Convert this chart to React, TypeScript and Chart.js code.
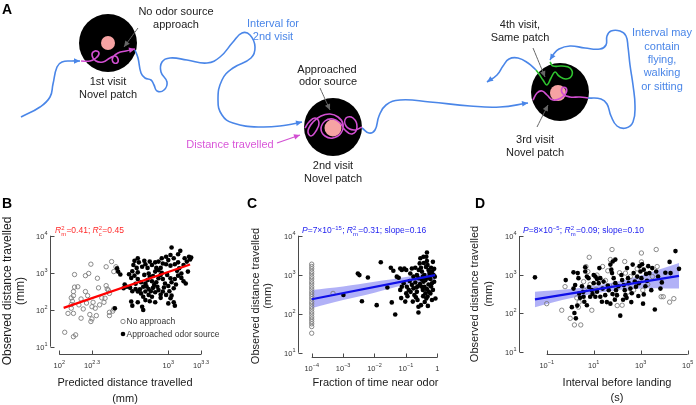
import { useEffect, useRef } from "react";
import { Chart, registerables } from "chart.js";

Chart.register(...registerables);

const FONT = "'Liberation Sans', Arial, Helvetica, sans-serif";
type Pt = [number, number];

// ================= DATA =================
// Panel B: [log10 predicted distance (mm), log10 observed distance (mm)]
const bNoApproach: Pt[] = [
  [2.05, 1.39], [2.13, 1.27], [2.15, 1.32], [2.08, 1.9], [2.13, 1.9], [2.2, 1.77], [2.11, 2.04], [2.11, 2.14],
  [2.12, 2.23], [2.11, 2.32], [2.13, 2.38], [2.13, 2.49], [2.14, 2.61], [2.14, 2.95], [2.2, 2.29], [2.18, 2.13],
  [2.24, 2.49], [2.26, 2.38], [2.24, 2.92], [2.27, 2.98], [2.29, 3.23], [2.3, 2.08], [2.28, 1.87], [2.3, 1.75],
  [2.29, 1.68], [2.34, 1.84], [2.31, 2.2], [2.33, 2.04], [2.35, 2.85], [2.36, 2.59], [2.37, 2.13], [2.39, 2.32],
  [2.43, 3.16], [2.43, 2.65], [2.44, 2.56], [2.46, 1.93], [2.46, 1.84], [2.49, 1.96], [2.5, 2.02], [2.48, 3.3],
  [2.5, 3.03], [2.52, 3.16], [2.42, 2.31], [2.41, 2.2], [2.46, 2.44], [2.45, 2.53], [2.22, 2.02], [2.25, 2.18],
  [2.17, 2.62],
];
const bApproached: Pt[] = [
  [3.03, 3.68], [3.11, 3.59], [3.19, 3.43], [3.21, 3.41], [3.15, 3.39], [3.09, 3.5], [3.02, 3.48], [2.98, 3.43],
  [2.94, 3.39], [3.0, 3.34], [3.05, 3.39], [2.91, 3.3], [2.95, 3.25], [2.98, 3.23], [3.02, 3.19], [3.06, 3.23],
  [3.09, 3.28], [2.88, 3.28], [2.85, 3.21], [2.89, 3.13], [2.83, 3.3], [2.88, 3.03], [2.91, 3.07], [2.93, 3.13],
  [2.72, 3.39], [2.69, 3.32], [2.73, 3.28], [2.68, 3.21], [2.71, 3.13], [2.67, 3.04], [2.72, 3.01], [2.76, 3.16],
  [2.79, 3.23], [2.81, 3.13], [2.78, 3.32], [2.54, 3.03], [2.56, 2.95], [2.53, 3.12],
  [2.69, 2.92], [2.66, 2.86], [2.72, 2.83], [2.75, 2.74], [2.77, 2.62], [2.79, 2.71], [2.81, 2.8], [2.83, 2.89],
  [2.85, 2.77], [2.87, 2.67], [2.89, 2.74], [2.91, 2.85], [2.93, 2.94], [2.95, 2.83], [2.97, 2.71], [2.99, 2.94],
  [3.02, 2.85], [3.03, 2.74], [3.06, 2.83], [3.09, 2.92], [3.12, 2.98], [3.14, 2.77], [3.16, 2.71], [3.18, 3.03],
  [3.1, 3.12], [3.14, 3.21], [2.82, 2.98], [2.78, 2.94],
  [2.59, 2.58], [2.62, 2.62], [2.65, 2.59], [2.67, 2.5], [2.7, 2.56], [2.72, 2.49], [2.75, 2.44], [2.77, 2.35],
  [2.79, 2.49], [2.82, 2.56], [2.84, 2.5], [2.86, 2.59], [2.88, 2.47], [2.91, 2.53], [2.93, 2.41], [2.95, 2.49],
  [2.98, 2.4], [3.01, 2.5], [3.03, 2.38], [3.05, 2.58], [3.07, 2.68], [2.82, 2.4], [2.85, 2.35], [2.79, 2.26],
  [2.66, 2.22], [2.67, 2.11], [2.72, 2.2], [2.76, 2.08], [2.77, 1.99], [2.83, 2.23], [2.88, 2.2], [2.93, 2.32],
  [3.02, 2.31], [3.05, 2.2], [3.06, 2.11], [3.0, 2.17], [2.51, 2.04], [2.6, 2.68], [3.2, 3.36], [3.17, 3.3],
  [2.9, 2.62], [2.96, 2.6], [3.0, 2.64], [2.74, 2.55], [2.8, 2.63], [2.94, 3.0], [3.08, 3.05], [2.7, 2.7],
  [2.86, 2.91], [3.12, 2.86], [2.64, 2.96],
];
const bFit: Pt[] = [[2.04, 2.05], [3.2, 3.22]];

// Panel C: [log10 fraction of time near odor, log10 observed distance (mm)]
const cNoApproachY: number[] = [
  3.27, 3.21, 3.15, 3.08, 3.02, 2.95, 2.89, 2.82, 2.76, 2.69, 2.63, 2.56, 2.5, 2.44, 2.38, 2.31, 2.25, 2.18,
  2.12, 2.05, 1.99, 1.92, 1.86, 1.8, 1.74, 1.67, 1.5,
];
const cNoApproachX = -4; // zero fraction plotted at the axis floor
const cNoApproachExtra: Pt[] = [[-3.32, 2.52]];
const cApproached: Pt[] = [
  [-2.99, 2.48], [-2.53, 3.03], [-2.48, 2.99], [-2.21, 2.93], [-2.4, 2.32], [-1.93, 2.22], [-1.8, 3.32],
  [-1.48, 3.18], [-1.59, 2.67], [-1.45, 2.29], [-1.34, 1.98], [-1.18, 3.16], [-1.13, 3.12], [-1.23, 2.92],
  [-1.05, 3.16], [-0.99, 3.12], [-1.29, 2.95], [-0.97, 2.69], [-0.99, 2.52], [-1.02, 2.31], [-0.88, 2.84],
  [-0.86, 3.03], [-0.81, 3.16], [-0.76, 2.95], [-0.7, 2.8], [-0.67, 2.67], [-0.65, 2.56], [-0.73, 2.48],
  [-0.63, 2.35], [-0.6, 2.18], [-0.56, 3.29], [-0.52, 3.18], [-0.49, 3.08], [-0.46, 2.95], [-0.44, 2.82],
  [-0.41, 2.69], [-0.46, 2.61], [-0.38, 2.52], [-0.35, 3.46], [-0.33, 3.35], [-0.31, 3.25], [-0.28, 3.12],
  [-0.24, 2.99], [-0.22, 2.89], [-0.28, 2.75], [-0.33, 2.63], [-0.31, 2.44], [-0.35, 2.39], [-0.2, 3.18],
  [-0.17, 3.08], [-0.14, 3.33], [-0.12, 2.99], [-0.17, 2.78], [-0.14, 2.61], [-0.06, 2.39], [-0.1, 2.82],
  [-0.33, 3.57], [-0.54, 3.42], [-0.44, 3.46], [-0.59, 3.12], [-0.7, 3.18], [-0.65, 2.99], [-0.81, 2.74],
  [-0.91, 2.61], [-1.07, 2.78], [-1.13, 2.69], [-1.18, 2.61], [-0.49, 2.69], [-0.76, 2.65], [-0.6, 2.91],
  [-0.41, 2.99], [-0.22, 2.52], [-0.17, 2.35], [-0.52, 2.22], [-0.6, 2.03], [-0.38, 2.86], [-0.3, 2.92],
  [-0.25, 3.05], [-0.55, 2.76], [-0.62, 2.7], [-0.85, 2.56], [-0.95, 2.45], [-0.45, 2.45], [-0.27, 2.56],
  [-0.1, 3.15], [-0.08, 2.95], [-0.36, 3.2], [-0.43, 3.3], [-0.5, 2.88], [-0.68, 2.42], [-0.78, 2.31],
  [-0.4, 2.3], [-1.4, 3.1], [-1.15, 2.4], [-0.3, 2.2], [-0.2, 2.7],
];
const cFit: Pt[] = [[-4, 2.37], [-0.07, 2.99]];
const cBandUpper: Pt[] = [[-4, 2.61], [-3, 2.7], [-2, 2.82], [-1, 2.94], [-0.07, 3.08]];
const cBandLower: Pt[] = [[-4, 2.14], [-3, 2.35], [-2, 2.54], [-1, 2.74], [-0.07, 2.87]];

// Panel D: [log10 interval before landing (s), log10 observed distance (mm)]
const dNoApproach: Pt[] = [
  [-1.0, 2.25], [-0.36, 2.08], [-0.22, 2.69], [0.0, 1.87], [0.18, 1.7], [0.45, 1.7], [0.35, 2.16], [0.38, 2.29],
  [0.57, 2.82], [0.67, 3.21], [0.81, 3.45], [0.75, 3.08], [0.92, 2.08], [1.14, 2.99], [1.38, 3.21], [1.71, 3.39],
  [1.78, 3.65], [1.85, 2.73], [1.92, 2.45], [2.21, 2.21], [2.32, 3.34], [2.35, 3.04], [2.56, 2.95], [3.03, 3.56],
  [3.03, 3.33], [3.09, 2.6], [3.66, 3.65], [3.7, 3.21], [3.87, 2.43], [3.96, 2.43], [4.23, 2.29], [4.41, 2.38],
  [0.6, 2.6], [0.85, 2.75], [1.1, 2.62], [1.5, 2.85], [2.0, 2.2], [2.1, 3.05], [2.45, 2.55], [2.7, 2.6],
  [3.3, 2.75], [3.5, 2.95], [0.28, 2.4], [1.6, 3.1], [2.85, 3.15],
];
const dApproached: Pt[] = [
  [-1.5, 2.93], [-0.19, 2.86], [0.14, 3.06], [0.14, 2.64], [0.21, 2.73], [0.32, 3.04], [0.35, 2.91], [0.38, 2.51],
  [0.42, 2.4], [0.07, 2.16], [0.18, 2.01], [0.24, 1.87], [0.64, 3.19], [0.64, 3.08], [0.71, 2.95], [0.78, 2.91],
  [1.0, 2.99], [1.07, 2.95], [1.14, 2.89], [1.21, 2.78], [1.28, 2.91], [0.92, 2.6], [0.85, 2.43], [0.57, 2.43],
  [0.71, 2.21], [1.14, 2.56], [1.28, 2.43], [1.38, 2.64], [1.42, 2.82], [1.49, 2.47], [1.56, 2.29], [1.64, 2.6],
  [1.71, 3.26], [1.75, 3.13], [1.81, 3.34], [1.92, 3.39], [1.78, 3.04], [1.85, 2.91], [1.92, 2.78], [1.95, 2.6],
  [1.99, 2.47], [1.71, 2.25], [2.13, 1.94], [2.18, 2.99], [2.21, 2.86], [2.28, 2.73], [2.32, 2.6], [2.35, 2.47],
  [2.42, 3.17], [2.46, 2.91], [2.49, 2.78], [2.56, 2.64], [2.6, 2.29], [2.66, 3.26], [2.7, 3.04], [2.75, 2.82],
  [2.8, 2.69], [2.85, 2.95], [2.92, 2.78], [2.99, 3.08], [3.03, 2.91], [3.06, 3.27], [3.13, 3.13], [3.13, 2.49],
  [3.1, 2.25], [3.23, 3.02], [3.27, 2.84], [3.32, 3.22], [3.37, 3.04], [3.49, 3.17], [3.6, 2.1], [3.66, 3.08],
  [3.74, 2.95], [3.84, 2.64], [4.23, 3.33], [4.27, 3.04], [4.48, 3.61], [4.63, 3.15], [1.24, 3.17], [1.0, 2.78],
  [1.07, 2.43], [0.5, 2.7], [0.55, 2.55], [0.8, 2.68], [0.95, 2.5], [1.35, 2.3], [1.6, 2.72], [1.9, 2.35],
  [2.05, 2.7], [2.4, 2.4], [2.62, 2.52], [2.9, 2.45], [3.2, 2.7], [3.45, 2.6], [3.9, 2.8], [4.05, 3.05],
  [0.3, 2.2], [0.6, 2.3], [1.8, 2.5], [2.25, 2.35], [2.95, 3.22],
];
const dFit: Pt[] = [[-1.5, 2.36], [4.63, 2.97]];
const dBandUpper: Pt[] = [[-1.5, 2.56], [0, 2.63], [1.5, 2.76], [3, 2.98], [4.63, 3.3]];
const dBandLower: Pt[] = [[-1.5, 2.16], [0, 2.39], [1.5, 2.56], [3, 2.64], [4.63, 2.64]];

// Tick exponents
const bXTickExps = ["2", "2.3", "3", "3.3"];
const bXTickVals = [2, 2.3, 3, 3.3];
const yTickExps = ["1", "2", "3", "4"];
const yTickVals = [1, 2, 3, 4];
const cXTickVals = [-4, -3, -2, -1, 0];
const cXTickLabels: [string, string][] = [["10", "−4"], ["10", "−3"], ["10", "−2"], ["10", "−1"], ["1", ""]];
const dXTickVals = [-1, 1, 3, 5];
const dXTickExps = ["−1", "1", "3", "5"];

// ================= PANEL A schematic (diagram units) =================
const patchCentres: Pt[] = [[108, 43], [333, 127], [560, 92]];
const odorCentres: Pt[] = [[108, 43], [333, 128], [558, 93]];
const odorRadii = [7, 8.5, 8];
const approachPath: Pt[] = [[21, 117], [40, 107], [50, 97], [53, 84], [57, 67], [62, 62], [72, 61], [80, 61]];
const visit1Path: Pt[] = [[81, 61], [90, 61], [96, 58], [99, 53], [95, 51], [92, 55], [96, 61], [103, 62], [110, 58], [115, 56], [118, 59], [117, 63], [113, 62], [113, 57], [118, 53], [126, 51], [135, 49]];
const interval2Path: Pt[] = [[135, 50], [138, 58], [141, 73], [145, 78], [151, 80], [154, 85], [157, 91], [164, 90], [167, 82], [161, 72], [162, 62], [170, 58], [187, 60], [207, 63], [220, 57], [233, 42], [242, 33], [250, 35], [255, 47], [251, 58], [233, 68], [222, 80], [218, 100], [222, 115], [233, 123], [260, 127], [287, 125], [302, 122]];
const visit2Path: Pt[] = [[305, 128], [309, 122], [315, 118], [319, 123], [316, 131], [311, 136], [308, 131], [313, 122], [321, 116], [330, 114], [338, 117], [343, 124], [341, 133], [333, 138], [325, 136], [321, 129], [325, 121], [333, 119], [340, 123], [345, 130], [352, 134], [357, 127], [353, 118], [346, 118], [346, 126], [354, 130], [362, 127]];
const interval3Path: Pt[] = [[362, 128], [369, 133], [375, 130], [379, 116], [386, 105], [400, 100], [430, 102], [470, 106], [500, 107], [528, 103]];
const visit3Path: Pt[] = [[533, 100], [537, 93], [542, 91], [547, 95], [553, 100], [561, 98], [566, 93], [566, 88], [562, 88], [563, 94], [570, 97], [580, 97], [588, 98]];
const interval4Path: Pt[] = [[588, 98], [601, 99], [607, 104], [611, 116], [617, 126], [626, 128], [633, 122], [635, 106], [633, 85], [630, 65], [628, 47], [626, 36], [620, 31], [611, 31], [607, 36], [606, 45], [600, 49], [585, 48], [570, 46], [559, 49], [553, 55], [550, 60]];
const visit4Path: Pt[] = [[550, 62], [553, 66], [562, 66], [570, 68], [572, 75], [566, 79], [559, 76], [555, 72], [551, 78], [547, 85], [543, 80], [539, 74], [536, 70]];
const leavePath: Pt[] = [[536, 70], [528, 63], [518, 58], [509, 59], [503, 66], [497, 75], [487, 82]];
const pointer1: Pt[] = [[138, 28], [124, 47]];
const pointer2: Pt[] = [[320, 88], [330, 110]];
const pointer3: Pt[] = [[533, 48], [545, 77]];
const pointer4: Pt[] = [[537, 127], [548, 105]];
const distancePointer: Pt[] = [[277, 143], [300, 135]];

const BLUE = "#4a86e8";
const MAGENTA = "#d24fd2";
const GREEN = "#2fc42f";
const GREY = "#666666";
const TEXT = "#222222";

const diagramLabels: { t: string; x: number; y: number; c: string }[] = [
  { t: "No odor source", x: 176, y: 12, c: TEXT },
  { t: "approach", x: 176, y: 25, c: TEXT },
  { t: "1st visit", x: 108, y: 82, c: TEXT },
  { t: "Novel patch", x: 108, y: 95, c: TEXT },
  { t: "Interval for", x: 273, y: 24, c: BLUE },
  { t: "2nd visit", x: 273, y: 37, c: BLUE },
  { t: "Approached", x: 327, y: 69.5, c: TEXT },
  { t: "odor source", x: 328, y: 82, c: TEXT },
  { t: "2nd visit", x: 333, y: 165.5, c: TEXT },
  { t: "Novel patch", x: 333, y: 178.5, c: TEXT },
  { t: "Distance travelled", x: 230, y: 145, c: "#d957d9" },
  { t: "4th visit,", x: 520, y: 25, c: TEXT },
  { t: "Same patch", x: 520, y: 38.3, c: TEXT },
  { t: "3rd visit", x: 535, y: 140, c: TEXT },
  { t: "Novel patch", x: 535, y: 153.3, c: TEXT },
  { t: "Interval may", x: 662, y: 33, c: BLUE },
  { t: "contain", x: 662, y: 47, c: BLUE },
  { t: "flying,", x: 662, y: 60, c: BLUE },
  { t: "walking", x: 662, y: 73.3, c: BLUE },
  { t: "or sitting", x: 662, y: 86.7, c: BLUE },
];

// ================= helpers =================
const toXY = (p: Pt[]) => p.map(([x, y]) => ({ x, y }));
const toPow = (p: Pt[]) => p.map(([lx, ly]) => ({ x: 10 ** lx, y: 10 ** ly }));

function arrowHead(ctx: CanvasRenderingContext2D, x1: number, y1: number, x2: number, y2: number, color: string, len = 6, half = 2.8) {
  const a = Math.atan2(y2 - y1, x2 - x1);
  ctx.beginPath();
  ctx.moveTo(x2, y2);
  ctx.lineTo(x2 - len * Math.cos(a) + half * Math.sin(a), y2 - len * Math.sin(a) - half * Math.cos(a));
  ctx.lineTo(x2 - len * Math.cos(a) - half * Math.sin(a), y2 - len * Math.sin(a) + half * Math.cos(a));
  ctx.closePath();
  ctx.fillStyle = color;
  ctx.fill();
}

type Seg = { t?: string; it?: boolean; sup?: string; sub?: string };
function drawRich(ctx: CanvasRenderingContext2D, x: number, y: number, segs: Seg[], size: number) {
  ctx.textAlign = "left";
  ctx.textBaseline = "alphabetic";
  let cx = x;
  for (const s of segs) {
    if (s.t !== undefined) {
      ctx.font = `${s.it ? "italic " : ""}${size}px ${FONT}`;
      ctx.fillText(s.t, cx, y);
      cx += ctx.measureText(s.t).width;
    } else {
      const ss = size * 0.7;
      ctx.font = `${ss}px ${FONT}`;
      let w = 0;
      if (s.sup) { ctx.fillText(s.sup, cx, y - size * 0.4); w = Math.max(w, ctx.measureText(s.sup).width); }
      if (s.sub) { ctx.fillText(s.sub, cx, y + size * 0.3); w = Math.max(w, ctx.measureText(s.sub).width); }
      cx += w + 0.3;
    }
  }
}

const TICK_SIZE = 7.5;
const EXP_SIZE = 5.5;
function drawPower(ctx: CanvasRenderingContext2D, x: number, y: number, base: string, exp: string, align: "center" | "right") {
  ctx.font = `${TICK_SIZE}px ${FONT}`;
  const wb = ctx.measureText(base).width;
  ctx.font = `${EXP_SIZE}px ${FONT}`;
  const we = exp ? ctx.measureText(exp).width : 0;
  const left = align === "center" ? x - (wb + we) / 2 : x - wb - we;
  ctx.textAlign = "left";
  ctx.textBaseline = "middle";
  ctx.font = `${TICK_SIZE}px ${FONT}`;
  ctx.fillText(base, left, y);
  if (exp) {
    ctx.font = `${EXP_SIZE}px ${FONT}`;
    ctx.fillText(exp, left + wb, y - 3.5);
  }
}

// ================= panel A =================
function buildDiagram(canvas: HTMLCanvasElement) {
  const path = (pts: Pt[], color: string, width = 1.6) => ({
    data: toXY(pts), showLine: true, pointRadius: 0, borderColor: color, borderWidth: width,
    tension: 0.45, fill: false, order: 1, clip: false,
  });
  const arrows: { p: Pt[]; c: string }[] = [
    { p: approachPath, c: BLUE }, { p: visit1Path, c: MAGENTA }, { p: interval2Path, c: BLUE },
    { p: interval3Path, c: BLUE }, { p: interval4Path, c: BLUE }, { p: leavePath, c: BLUE },
    { p: pointer1, c: GREY }, { p: pointer2, c: GREY }, { p: pointer3, c: GREY }, { p: pointer4, c: GREY },
    { p: distancePointer, c: MAGENTA },
  ];
  const plugin = {
    id: "diagramDecor",
    afterDatasetsDraw(chart: any) {
      const ctx = chart.ctx as CanvasRenderingContext2D;
      const xs = chart.scales.x, ys = chart.scales.y;
      ctx.save();
      for (const a of arrows) {
        const n = a.p.length;
        const [x1, y1] = a.p[n - 2];
        const [x2, y2] = a.p[n - 1];
        arrowHead(ctx, xs.getPixelForValue(x1), ys.getPixelForValue(y1), xs.getPixelForValue(x2), ys.getPixelForValue(y2), a.c);
      }
      ctx.textAlign = "center";
      ctx.textBaseline = "middle";
      ctx.font = `11px ${FONT}`;
      for (const l of diagramLabels) {
        ctx.fillStyle = l.c;
        ctx.fillText(l.t, xs.getPixelForValue(l.x), ys.getPixelForValue(l.y));
      }
      ctx.fillStyle = "#000";
      ctx.textAlign = "left";
      ctx.textBaseline = "alphabetic";
      ctx.font = `bold 14px ${FONT}`;
      ctx.fillText("A", 2, 14);
      ctx.restore();
    },
  };
  return new Chart(canvas, {
    type: "scatter",
    data: {
      datasets: [
        { data: toXY(patchCentres), pointRadius: 29, pointBackgroundColor: "#000", pointBorderWidth: 0, order: 10 } as any,
        { data: toXY(odorCentres), pointRadius: odorRadii, pointBackgroundColor: "#f6a3a3", pointBorderWidth: 0, order: 9 } as any,
        path(approachPath, BLUE), path(visit1Path, MAGENTA), path(interval2Path, BLUE), path(visit2Path, MAGENTA),
        path(interval3Path, BLUE), path(visit3Path, MAGENTA), path(interval4Path, BLUE), path(visit4Path, GREEN),
        path(leavePath, BLUE), path(pointer1, GREY, 1), path(pointer2, GREY, 1), path(pointer3, GREY, 1),
        path(pointer4, GREY, 1), path(distancePointer, MAGENTA, 1.2),
      ],
    },
    options: {
      animation: false, responsive: false, maintainAspectRatio: false, events: [],
      layout: { padding: 0, autoPadding: false } as any,
      scales: {
        x: { type: "linear", min: 0, max: 696, display: false },
        y: { type: "linear", min: 0, max: 195, reverse: true, display: false },
      },
      plugins: { legend: { display: false }, tooltip: { enabled: false } },
    },
    plugins: [plugin],
  } as any);
}

// ================= scatter panels =================
interface Spec {
  xRange: [number, number]; yRange: [number, number];
  padding: { left: number; right: number; top: number; bottom: number };
  xTicks: { v: number; base: string; exp: string }[];
  yTicks: { v: number; base: string; exp: string }[];
  letter: string; letterX: number;
  stats: Seg[]; statsColor: string; statsX: number;
  yTitle: string[]; yTitleX: number[]; yTitleY: number; yTitleSize: number;
  xTitle: string[]; xTitleX: number; xTitleY: number[]; xTitleSize: number;
  open: Pt[]; filled: Pt[]; fit: Pt[]; fitColor: string;
  bandUpper?: Pt[]; bandLower?: Pt[]; legend?: boolean;
}

function buildScatter(canvas: HTMLCanvasElement, s: Spec) {
  const plugin = {
    id: "offsetAxes",
    afterDraw(chart: any) {
      const ctx = chart.ctx as CanvasRenderingContext2D;
      const xs = chart.scales.x, ys = chart.scales.y;
      const a = chart.chartArea;
      ctx.save();
      ctx.strokeStyle = "#4a4a4a";
      ctx.lineWidth = 1;
      // y axis
      const yTop = ys.getPixelForValue(10 ** s.yTicks[s.yTicks.length - 1].v);
      const yBot = ys.getPixelForValue(10 ** s.yTicks[0].v);
      const ax = Math.round(a.left) + 0.5;
      ctx.beginPath();
      ctx.moveTo(ax, yTop); ctx.lineTo(ax, yBot);
      for (const t of s.yTicks) {
        const py = Math.round(ys.getPixelForValue(10 ** t.v)) + 0.5;
        ctx.moveTo(ax, py); ctx.lineTo(ax + 4, py);
      }
      // x axis
      const xL = xs.getPixelForValue(10 ** s.xTicks[0].v);
      const xR = xs.getPixelForValue(10 ** s.xTicks[s.xTicks.length - 1].v);
      const ay = Math.round(a.bottom) + 0.5;
      ctx.moveTo(xL, ay); ctx.lineTo(xR, ay);
      for (const t of s.xTicks) {
        const px = Math.round(xs.getPixelForValue(10 ** t.v)) + 0.5;
        ctx.moveTo(px, ay); ctx.lineTo(px, ay - 4);
      }
      ctx.stroke();
      // tick labels
      ctx.fillStyle = "#333";
      for (const t of s.yTicks) drawPower(ctx, ax - 3, ys.getPixelForValue(10 ** t.v) + 1, t.base, t.exp, "right");
      for (const t of s.xTicks) drawPower(ctx, xs.getPixelForValue(10 ** t.v), ay + 11, t.base, t.exp, "center");
      // titles
      ctx.fillStyle = "#1a1a1a";
      ctx.textAlign = "center";
      ctx.textBaseline = "middle";
      ctx.font = `${s.xTitleSize}px ${FONT}`;
      s.xTitle.forEach((line, i) => ctx.fillText(line, s.xTitleX, s.xTitleY[i]));
      ctx.font = `${s.yTitleSize}px ${FONT}`;
      s.yTitle.forEach((line, i) => {
        ctx.save();
        ctx.translate(s.yTitleX[i], s.yTitleY);
        ctx.rotate(-Math.PI / 2);
        ctx.fillText(line, 0, 0);
        ctx.restore();
      });
      // panel letter
      ctx.fillStyle = "#000";
      ctx.textAlign = "left";
      ctx.textBaseline = "alphabetic";
      ctx.font = `bold 14px ${FONT}`;
      ctx.fillText(s.letter, s.letterX, 33);
      // stats
      ctx.fillStyle = s.statsColor;
      drawRich(ctx, s.statsX, 58, s.stats, 8.5);
      // legend
      if (s.legend) {
        const lx = 123, l1 = 146.5, l2 = 159;
        ctx.beginPath();
        ctx.arc(lx, l1, 2.2, 0, Math.PI * 2);
        ctx.strokeStyle = "#808080"; ctx.lineWidth = 0.9; ctx.stroke();
        ctx.beginPath();
        ctx.arc(lx, l2, 2.3, 0, Math.PI * 2);
        ctx.fillStyle = "#000"; ctx.fill();
        ctx.fillStyle = "#333";
        ctx.font = `8.5px ${FONT}`;
        ctx.textBaseline = "middle";
        ctx.fillText("No approach", lx + 3.5, l1 + 0.5);
        ctx.fillText("Approached odor source", lx + 3.5, l2 + 0.5);
      }
      ctx.restore();
    },
  };

  const datasets: any[] = [];
  if (s.bandUpper && s.bandLower) {
    datasets.push({ data: toPow(s.bandUpper), showLine: true, pointRadius: 0, borderWidth: 0, borderColor: "rgba(0,0,0,0)", backgroundColor: "rgba(100,100,240,0.5)", fill: "+1", tension: 0.35, order: 6 });
    datasets.push({ data: toPow(s.bandLower), showLine: true, pointRadius: 0, borderWidth: 0, borderColor: "rgba(0,0,0,0)", fill: false, tension: 0.35, order: 7 });
  }
  datasets.push({ data: toPow(s.open), pointRadius: 2.2, pointBorderColor: "#7d7d7d", pointBackgroundColor: "rgba(255,255,255,0)", pointBorderWidth: 0.9, order: 4, clip: false });
  datasets.push({ data: toPow(s.filled), pointRadius: 2.3, pointBorderColor: "#000", pointBackgroundColor: "#000", pointBorderWidth: 0, order: 3, clip: false });
  datasets.push({ data: toPow(s.fit), showLine: true, pointRadius: 0, borderColor: s.fitColor, borderWidth: 2.2, fill: false, order: 1 });

  return new Chart(canvas, {
    type: "scatter",
    data: { datasets },
    options: {
      animation: false, responsive: false, maintainAspectRatio: false, events: [],
      layout: { padding: s.padding, autoPadding: false } as any,
      scales: {
        x: { type: "logarithmic", min: 10 ** s.xRange[0], max: 10 ** s.xRange[1], display: false },
        y: { type: "logarithmic", min: 10 ** s.yRange[0], max: 10 ** s.yRange[1], display: false },
      },
      plugins: { legend: { display: false }, tooltip: { enabled: false } },
    },
    plugins: [plugin],
  } as any);
}

const yTicksStd = yTickVals.map((v, i) => ({ v, base: "10", exp: yTickExps[i] }));
const rm = (v: string): Seg[] => [{ t: "R", it: true }, { sup: "2", sub: "m" }, { t: v }];

const panelB: Spec = {
  xRange: [1.915, 3.3], yRange: [0.816, 4],
  padding: { left: 50, right: 31, top: 60.7, bottom: 51.5 },
  xTicks: bXTickVals.map((v, i) => ({ v, base: "10", exp: bXTickExps[i] })),
  yTicks: yTicksStd,
  letter: "B", letterX: 2,
  stats: [...rm("=0.41; "), { t: "R", it: true }, { sup: "2", sub: "c" }, { t: "=0.45" }],
  statsColor: "#ff2a2a", statsX: 55,
  yTitle: ["Observed distance travelled", "(mm)"], yTitleX: [8, 21], yTitleY: 116, yTitleSize: 12,
  xTitle: ["Predicted distance travelled", "(mm)"], xTitleX: 125, xTitleY: [208, 224], xTitleSize: 11,
  open: bNoApproach, filled: bApproached, fit: bFit, fitColor: "#ff0000", legend: true,
};

const panelC: Spec = {
  xRange: [-4.436, 0], yRange: [0.89, 4],
  padding: { left: 66, right: 26.7, top: 60.7, bottom: 48 },
  xTicks: cXTickVals.map((v, i) => ({ v, base: cXTickLabels[i][0], exp: cXTickLabels[i][1] })),
  yTicks: yTicksStd,
  letter: "C", letterX: 15,
  stats: [{ t: "P", it: true }, { t: "=7×10" }, { sup: "−15" }, { t: "; " }, ...rm("=0.31; slope=0.16")],
  statsColor: "#2424f0", statsX: 70,
  yTitle: ["Observed distance travelled", "(mm)"], yTitleX: [24, 36], yTitleY: 121, yTitleSize: 11,
  xTitle: ["Fraction of time near odor"], xTitleX: 143.5, xTitleY: [208], xTitleSize: 11,
  open: [...cNoApproachY.map((y) => [cNoApproachX, y] as Pt), ...cNoApproachExtra],
  filled: cApproached, fit: cFit, fitColor: "#1010e8",
  bandUpper: cBandUpper, bandLower: cBandLower,
};

const panelD: Spec = {
  xRange: [-2.2, 5], yRange: [0.948, 4],
  padding: { left: 54.5, right: 8.3, top: 61, bottom: 51 },
  xTicks: dXTickVals.map((v, i) => ({ v, base: "10", exp: dXTickExps[i] })),
  yTicks: yTicksStd,
  letter: "D", letterX: 11,
  stats: [{ t: "P", it: true }, { t: "=8×10" }, { sup: "−5" }, { t: "; " }, ...rm("=0.09; slope=0.10")],
  statsColor: "#2424f0", statsX: 59,
  yTitle: ["Observed distance travelled", "(mm)"], yTitleX: [11, 25], yTitleY: 119, yTitleSize: 11,
  xTitle: ["Interval before landing", "(s)"], xTitleX: 153, xTitleY: [208, 223], xTitleSize: 11,
  open: dNoApproach, filled: dApproached, fit: dFit, fitColor: "#1010e8",
  bandUpper: dBandUpper, bandLower: dBandLower,
};

export default function App() {
  const aRef = useRef<HTMLCanvasElement>(null);
  const bRef = useRef<HTMLCanvasElement>(null);
  const cRef = useRef<HTMLCanvasElement>(null);
  const dRef = useRef<HTMLCanvasElement>(null);
  useEffect(() => {
    const charts = [
      buildDiagram(aRef.current!),
      buildScatter(bRef.current!, panelB),
      buildScatter(cRef.current!, panelC),
      buildScatter(dRef.current!, panelD),
    ];
    return () => charts.forEach((c) => c.destroy());
  }, []);
  const abs = (left: number, top: number) => ({ position: "absolute" as const, left, top, display: "block" });
  return (
    <div style={{ position: "absolute", left: 0, top: 0, width: 696, height: 405, background: "#fff", overflow: "hidden" }}>
      <canvas ref={aRef} width={696} height={195} style={abs(0, 0)} />
      <canvas ref={bRef} width={232} height={230} style={abs(0, 175)} />
      <canvas ref={cRef} width={232} height={230} style={abs(232, 175)} />
      <canvas ref={dRef} width={232} height={230} style={abs(464, 175)} />
    </div>
  );
}
